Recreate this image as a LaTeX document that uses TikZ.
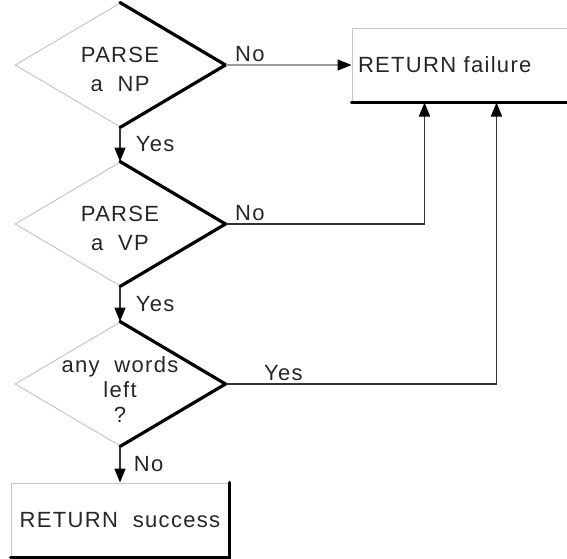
\documentclass[tikz,border=0pt]{standalone}
\usepackage{fontspec}
\newfontfamily\plotfont{Liberation Sans}[LetterSpace=6,WordSpace=2]
\usetikzlibrary{shapes.geometric,arrows.meta}

\begin{document}
\begin{tikzpicture}[x=0.5pt,y=-0.5pt,font=\plotfont\fontsize{11}{14.5}\selectfont,
  dec/.style={diamond,draw=gray!45,line width=0.5pt,minimum width=105pt,minimum height=62pt,inner sep=0pt},
  dectext/.style={align=center,text=black!85,inner sep=0pt,yshift=-2pt},
  box/.style={rectangle,draw=gray!45,line width=0.5pt,minimum width=109pt,minimum height=37pt,inner sep=0pt,text=black!85},
  shade/.style={line width=1.6pt,line join=miter,line cap=round},
  conn/.style={line width=0.9pt,black!80,-{Triangle[length=7pt,width=5.5pt,color=black]}},
  lbl/.style={inner sep=1.5pt,text=black!85}]
\useasboundingbox (0,0) rectangle (567,558);
% decisions
\node[dec] (parsenp) at (120,65) {};
\node[dectext] (parsenptext) at (parsenp.center) {PARSE\\a NP};
\node[dec] (parsevp) at (120,224) {};
\node[dectext] (parsevptext) at (parsevp.center) {PARSE\\a VP};
\node[dec] (words) at (120,384) {};
\node[dectext,yshift=-1pt] (wordstext) at (words.center) {any words\\[-2pt]left\\[-2pt]?};
% results
\node[box,text width=103pt,align=left] (fail) at (461,65) {RETURN failure};
\node[box] (succ) at (120,520) {RETURN success};
% heavy lower right edges
\foreach \d in {parsenp,parsevp,words} {
   \draw[shade] (\d.north) -- (\d.east) -- (\d.south);
}
\foreach \b in {fail,succ} {
   \draw[shade] (\b.north east) -- (\b.south east) -- (\b.south west);
}
% flow
\draw[conn,line width=0.6pt,gray!80] (parsenp.east) -- (fail.west)
   node[lbl,pos=0,above right,xshift=3pt] {No};
\draw[conn] (parsenp.south) -- (parsevp.north)
   node[lbl,midway,right,xshift=6pt] {Yes};
\draw[conn,line width=0.7pt] (parsevp.east) -| ([xshift=36.5pt]fail.south west)
   node[lbl,pos=0,above right,xshift=3pt] {No};
\draw[conn] (parsevp.south) -- (words.north)
   node[lbl,midway,right,xshift=6pt] {Yes};
\draw[conn,line width=0.7pt] (words.east) -| ([xshift=72.5pt]fail.south west)
   node[lbl,pos=0,above right,xshift=17.5pt] {Yes};
\draw[conn] (words.south) -- (succ.north)
   node[lbl,midway,right,xshift=5pt] {No};
\end{tikzpicture}
\end{document}
